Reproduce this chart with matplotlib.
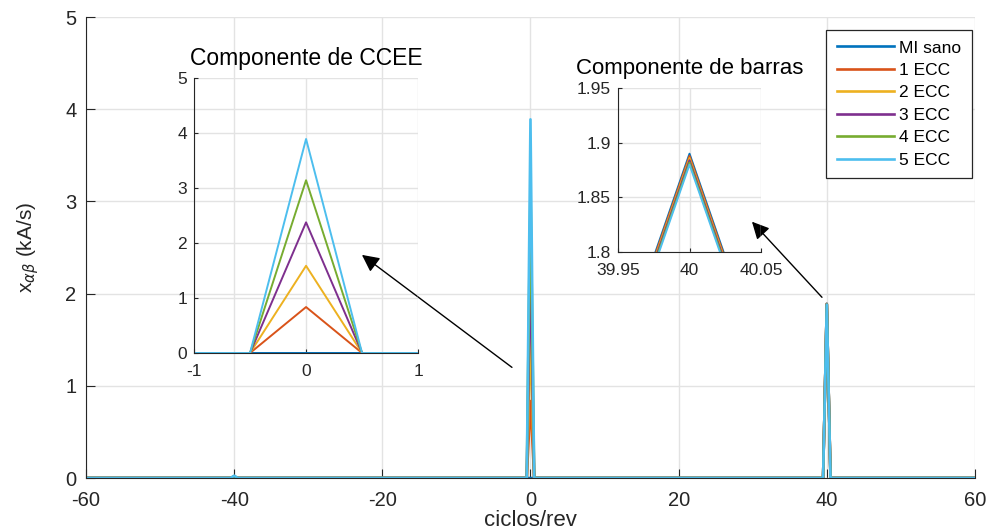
#! /usr/bin/env python
"""Espectro de x_alphabeta: MI sano y con excentricidad (1 a 5 ECC)."""

import numpy as np
import matplotlib
matplotlib.use('Agg')
import matplotlib.pyplot as plt

plt.rcParams['font.family'] = ['Liberation Sans', 'DejaVu Sans']
plt.rcParams['mathtext.fontset'] = 'dejavusans'
plt.rcParams['axes.unicode_minus'] = False

### data ##########################################################################################

labels = ['MI sano', '1 ECC', '2 ECC', '3 ECC', '4 ECC', '5 ECC']
colors = ['#0072BD', '#D95319', '#EDB120', '#7E2F8E', '#77AC30', '#4DBEEE']

# frequency axis (ciclos/rev), resolution 0.5
freq = np.arange(-60, 60.5, 0.5)

# peak amplitudes (kA/s) per series
peak_freqs = [-40.0, 0.0, 40.0]
peak_m40 = [0.0, 0.005, 0.01, 0.015, 0.02, 0.025]
peak_0 = [0.0, 0.835, 1.585, 2.375, 3.14, 3.89]
peak_40 = [1.890, 1.888, 1.886, 1.884, 1.882, 1.880]

series = []
for i in range(len(labels)):
    y = np.zeros_like(freq)
    for f, v in zip(peak_freqs, [peak_m40[i], peak_0[i], peak_40[i]]):
        y[np.isclose(freq, f)] = v
    series.append(y)

### style #########################################################################################

axcol = '#262626'
gridcol = '#e3e3e3'


def style(ax, size, ticklen, pad):
    for s in ['top', 'right']:
        ax.spines[s].set_visible(False)
    for s in ['left', 'bottom']:
        ax.spines[s].set_color(axcol)
        ax.spines[s].set_linewidth(0.8)
    ax.tick_params(direction='in', length=ticklen, width=0.8, colors=axcol,
                   labelsize=size, pad=pad)
    ax.grid(True, color=gridcol, linewidth=1.0)
    ax.set_axisbelow(True)
    ax.set_facecolor('none')


### figure ########################################################################################

fig = plt.figure(figsize=(9.86, 5.32), dpi=100)

# main spectrum
ax = fig.add_axes([0.0872, 0.1015, 0.9016, 0.8665])
for y, c, lab in zip(series, colors, labels):
    ax.plot(freq, y, color=c, lw=1.9, label=lab)
ax.set_xlim(-60, 60)
ax.set_ylim(0, 5)
ax.set_xticks(np.arange(-60, 61, 20))
ax.set_yticks(np.arange(0, 6, 1))
style(ax, 14.5, 6.5, 7)
ax.tick_params(axis='x', pad=9)
ax.set_xlabel('ciclos/rev', fontsize=16, color=axcol, labelpad=0)
ax.set_ylabel(r'x$_{\alpha\beta}$ (kA/s)', fontsize=15, color=axcol, labelpad=17)

leg = ax.legend(loc='upper right', bbox_to_anchor=(0.9966, 0.972), borderaxespad=0,
                fontsize=12.5, fancybox=False, framealpha=1, edgecolor=axcol,
                handlelength=3.3, labelspacing=0.42, handletextpad=0.3, borderpad=0.6)
leg.get_frame().set_linewidth(0.9)
for t in leg.get_texts():
    t.set_color('#000000')

# arrows towards the zoomed views
ax.annotate('', xy=(-22.75, 2.42), xytext=(-2.5, 1.20),
            arrowprops=dict(arrowstyle='-|>', color='k', lw=1.0,
                            mutation_scale=26, shrinkA=0, shrinkB=0))
ax.annotate('', xy=(29.9, 2.78), xytext=(39.35, 1.96),
            arrowprops=dict(arrowstyle='-|>', color='k', lw=1.0,
                            mutation_scale=26, shrinkA=0, shrinkB=0))

# inset: CCEE component around 0
ax1 = fig.add_axes([0.1968, 0.3365, 0.2272, 0.517])
for y, c in zip(series, colors):
    ax1.plot(freq, y, color=c, lw=1.4)
ax1.set_xlim(-1, 1)
ax1.set_ylim(0, 5)
ax1.set_xticks([-1, 0, 1])
ax1.set_yticks(np.arange(0, 6, 1))
style(ax1, 12.5, 3, 5)
ax1.tick_params(axis='x', pad=8)
ax1.set_title('Componente de CCEE', fontsize=16.5, color='#000000', pad=9)

# inset: bar component around 40
ax2 = fig.add_axes([0.6268, 0.5263, 0.145, 0.308])
for y, c in zip(series, colors):
    ax2.plot(freq, y, color=c, lw=1.4)
ax2.set_xlim(39.95, 40.05)
ax2.set_ylim(1.8, 1.95)
ax2.set_xticks([39.95, 40, 40.05])
ax2.set_xticklabels(['39.95', '40', '40.05'])
ax2.set_yticks([1.8, 1.85, 1.9, 1.95])
ax2.set_yticklabels(['1.8', '1.85', '1.9', '1.95'])
style(ax2, 12.5, 3, 5)
ax2.tick_params(axis='x', pad=8)
ax2.set_title('Componente de barras', fontsize=16, color='#000000', pad=10)

fig.savefig('out.png', dpi=100)
plt.close(fig)
